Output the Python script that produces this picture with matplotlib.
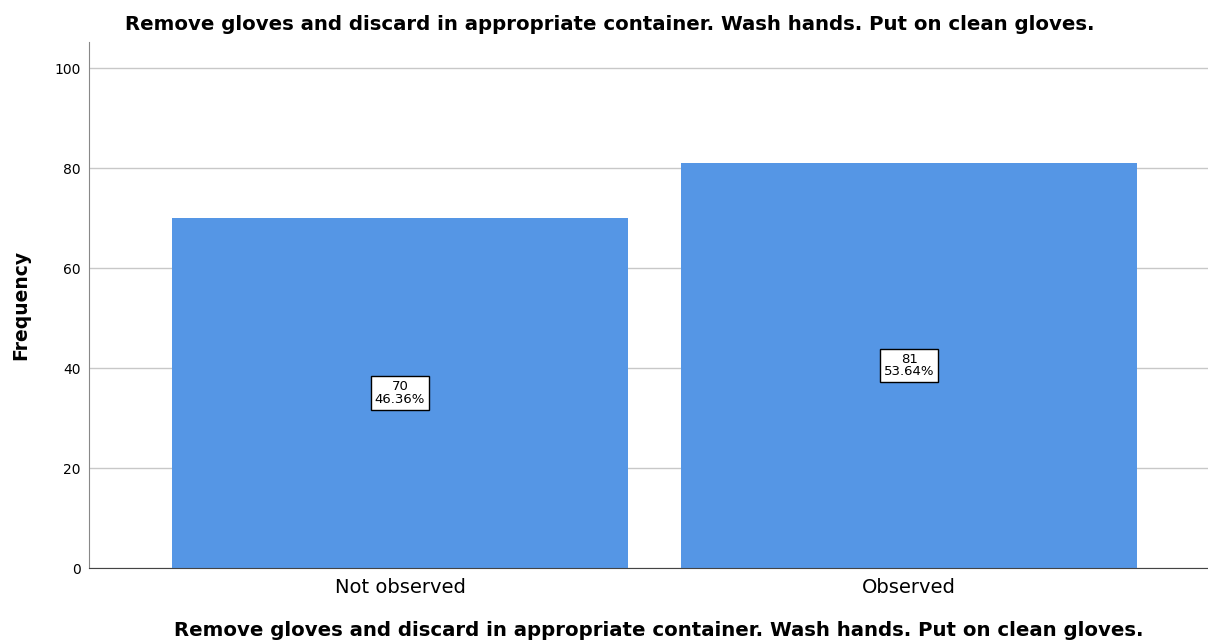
import matplotlib.pyplot as plt

# Data
categories = ['Not observed', 'Observed']
counts = [70, 81]
percents = ['46.36%', '53.64%']
yticks = [0, 20, 40, 60, 80, 100]
title = 'Remove gloves and discard in appropriate container. Wash hands. Put on clean gloves.'

plt.rcParams['font.family'] = ['DejaVu Sans']

fig = plt.figure(figsize=(12.08, 6.42), dpi=100)
ax = fig.add_axes([89 / 1208, 1 - 568 / 642, (1208 - 89) / 1208, (568 - 42) / 642])

x = list(range(len(categories)))
ax.bar(x, counts, width=0.896, color='#5596E5', zorder=2)

for xi, c, p in zip(x, counts, percents):
    ax.text(xi, c / 2, f'{c}\n{p}', ha='center', va='center', fontsize=9.5,
            linespacing=0.95, zorder=3,
            bbox=dict(boxstyle='square,pad=0.3', facecolor='white', edgecolor='black', linewidth=1))

ax.set_xlim(-0.611, 1.587)
ax.set_ylim(0, 105.2)
ax.set_yticks(yticks)
ax.set_xticks(x)
ax.set_xticklabels(categories, fontsize=14)
ax.tick_params(axis='y', labelsize=10, length=0, pad=6)
ax.tick_params(axis='x', length=0, pad=7)
ax.yaxis.grid(True, color='#C8C8C8', linewidth=1, zorder=0)
ax.set_axisbelow(True)

for s in ['top', 'right']:
    ax.spines[s].set_visible(False)
ax.spines['left'].set_color('#888888')
ax.spines['bottom'].set_color('#444444')

ax.set_ylabel('Frequency', fontsize=13.5, fontweight='bold', labelpad=17)
fig.text(610 / 1208, 1 - 25 / 642, title, ha='center', va='center', fontsize=14.2, fontweight='bold')
fig.text(659 / 1208, 1 - 630 / 642, title, ha='center', va='center', fontsize=14.2, fontweight='bold')

fig.savefig('out.png', dpi=100)
